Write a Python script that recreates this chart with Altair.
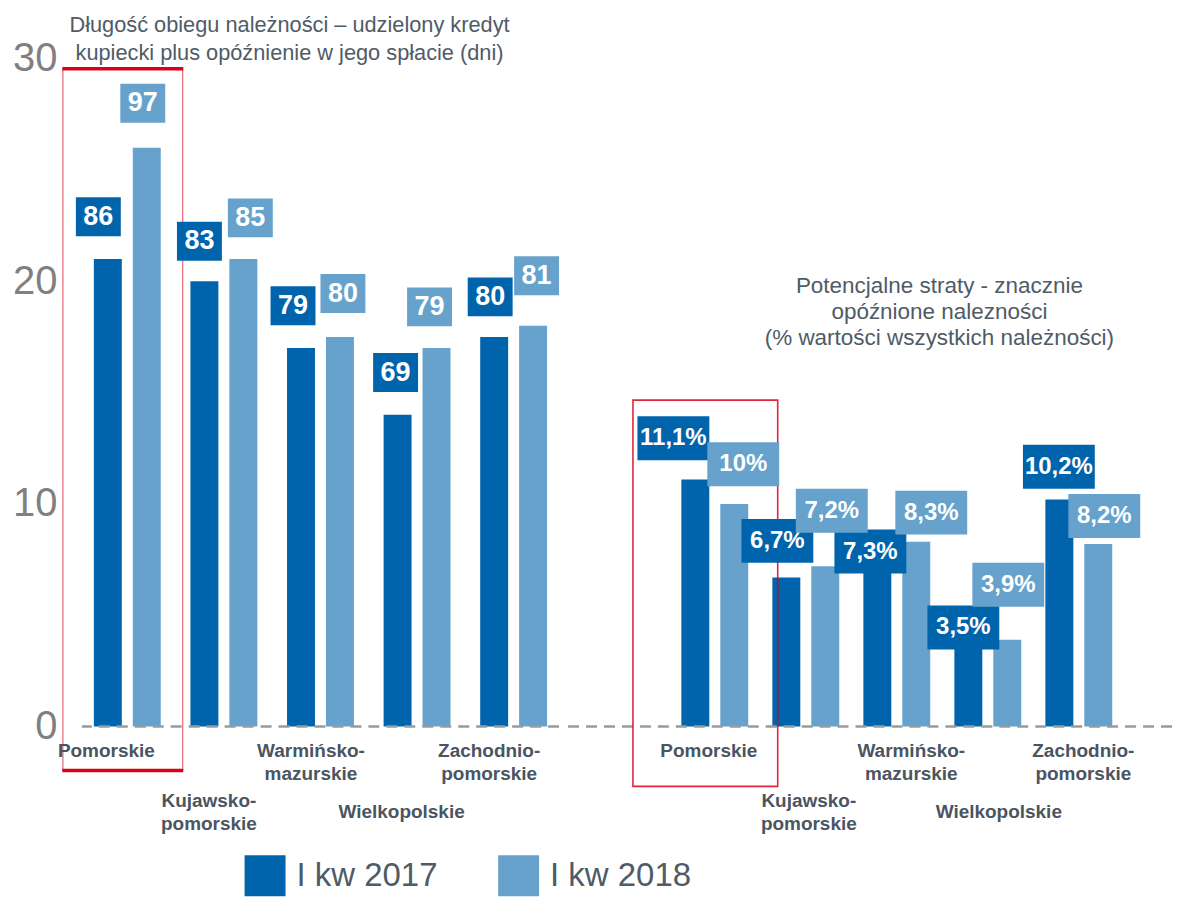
import altair as alt
import pandas as pd

# ---------------- data ----------------
regions = ["Pomorskie", "Kujawsko-pomorskie", "Warmińsko-mazurskie", "Wielkopolskie", "Zachodnio-pomorskie"]
region_names = ["Pomorskie", "Kujawsko-\npomorskie", "Warmińsko-\nmazurskie", "Wielkopolskie", "Zachodnio-\npomorskie"]
years = ["I kw 2017", "I kw 2018"]

# left panel: receivables turnover (days) - printed values and bar heights as drawn on the 0-30 axis
days_2017 = [86, 83, 79, 69, 80]
days_2018 = [97, 85, 80, 79, 81]
days_bar_2017 = [21.0, 20.0, 17.0, 14.0, 17.5]
days_bar_2018 = [26.0, 21.0, 17.5, 17.0, 18.0]

# right panel: potential losses (% of all receivables)
loss_2017 = [11.1, 6.7, 7.3, 3.5, 10.2]
loss_2018 = [10.0, 7.2, 8.3, 3.9, 8.2]

left_title = ["Długość obiegu należności – udzielony kredyt", "kupiecki plus opóźnienie w jego spłacie (dni)"]
right_title = ["Potencjalne straty - znacznie", "opóźnione nalezności" + "\u00a0" * 7,
               "(% wartości wszystkich należności)"]

# ---------------- annotation layout ----------------
days_lab_y_2017 = [22.9, 21.8, 18.9, 15.9, 19.3]
days_lab_y_2018 = [28.0, 22.85, 19.45, 18.85, 20.25]
days_lab_dx_2017 = [-9.5, -5, -8, -2, -4]
days_lab_dx_2018 = [-4, 7, 3, -7, 3.5]
loss_lab_y_2017 = [12.95, 8.34, 7.86, 4.45, 11.67]
loss_lab_y_2018 = [11.78, 9.69, 9.61, 6.37, 9.46]
loss_lab_dx_2017 = [-21, -8, -6, -4, 0.5]
loss_lab_dx_2018 = [12, 9.5, 18, 4, 9]
days_name_dx = [-21, -15, -9.5, -15.5, -24.5]
loss_name_dx = [-4, 5, 16.5, 13, 6.5]
name_tier = [0, 1, 0, 1, 0]

DARK = "#0064AD"
LIGHT = "#66A2CB"
RED = "#D9001B"
SLATE = "#4f5b66"
NAME_C = "#4a5561"
FONT = "Liberation Sans"
PLOT_H = 669


def fmt_pct(v):
    return ("%g" % v).replace(".", ",") + "%"


def bars_frame(a, b):
    return pd.DataFrame({"region": regions * 2,
                         "year": [years[0]] * 5 + [years[1]] * 5,
                         "value": list(a) + list(b)})


def labels_frame(ta, tb, ya, yb, dxa, dxb, half):
    return pd.DataFrame({"idx": list(range(10)),
                         "region": regions * 2,
                         "year": [years[0]] * 5 + [years[1]] * 5,
                         "text": list(ta) + list(tb),
                         "ly": list(ya) + list(yb),
                         "ox": [d - half for d in dxa] + [d + half for d in dxb]})


def names_frame(dx):
    return pd.DataFrame({"idx": list(range(5)), "region": regions, "name": region_names,
                         "ox": dx, "tier": name_tier})


LEGEND = alt.Legend(orient="none", legendX=163, legendY=798, direction="horizontal", title=None,
                    symbolType="square", symbolSize=1681, symbolStrokeWidth=0, symbolOpacity=1,
                    labelFontSize=33, labelFont=FONT, labelColor=SLATE, labelOffset=11,
                    columnPadding=60, labelLimit=400)
COLOR_SCALE = alt.Scale(domain=years, range=[DARK, LIGHT])


def panel(width, bars_df, lab_df, names_df, band, bar_pad, box, box_w, box_h, lab_size,
          title_lines, title_x, title_y, title_lh, title_size, show_axis):
    xs = alt.Scale(domain=regions, paddingInner=band[0], paddingOuter=band[1], align=band[2])
    X = alt.X("region:N", scale=xs, axis=None, sort=regions, title=None)
    ys = alt.Scale(domain=[0, 30], nice=False)
    axis = alt.Axis(values=[0, 10, 20, 30], title=None) if show_axis else None

    def Y(f):
        return alt.Y(f, scale=ys, axis=axis, title=None)

    bars = alt.Chart(bars_df).mark_bar().encode(
        x=X,
        xOffset=alt.XOffset("year:N", sort=years,
                            scale=alt.Scale(domain=years, paddingInner=bar_pad, paddingOuter=0)),
        y=Y("value:Q"),
        color=alt.Color("year:N", scale=COLOR_SCALE, legend=LEGEND),
    )
    zero = alt.Chart(pd.DataFrame({"z": [0]})).mark_rule(
        strokeDash=[11, 7], color="#9a9a9a", strokeWidth=2.5
    ).encode(y=Y("z:Q"))

    layers = [bars, zero]

    box_df = pd.DataFrame({"region": [regions[0]], "top": [box["top"]], "bottom": [box["bottom"]]})
    frame = alt.Chart(box_df).mark_bar(
        width=box["w"], xOffset=box["ox"], fillOpacity=0, stroke=RED,
        strokeWidth=box["side"], strokeOpacity=box["side_op"]
    ).encode(x=X, y=Y("top:Q"), y2="bottom:Q")
    layers.append(frame)
    if box.get("thick"):
        edge_df = pd.DataFrame({"region": [regions[0]] * 2, "yv": [box["top"], box["bottom"]]})
        edges = alt.Chart(edge_df).mark_tick(
            orient="horizontal", size=box["w"] + 1, thickness=box["thick"], color=RED,
            xOffset=box["ox"], opacity=1
        ).encode(x=X, y=Y("yv:Q"))
        layers.append(edges)

    shape = "M-1,-{r}L1,-{r}L1,{r}L-1,{r}Z".format(r=round(box_h / box_w, 4))
    base_lab = alt.Chart(lab_df)
    for i, row in lab_df.iterrows():
        one = base_lab.transform_filter(f"datum.idx == {int(row['idx'])}")
        layers.append(one.mark_point(
            shape=shape, filled=True, size=box_w * box_w, opacity=1, strokeWidth=0,
            xOffset=float(row["ox"])
        ).encode(
            x=X, y=Y("ly:Q"),
            fill=alt.Fill("year:N", scale=alt.Scale(domain=years, range=[DARK, LIGHT]), legend=None),
        ))
        layers.append(one.mark_text(
            font=FONT, fontWeight="bold", fontSize=lab_size, color="white",
            align="center", baseline="middle", xOffset=float(row["ox"])
        ).encode(x=X, y=Y("ly:Q"), text="text:N"))

    base_names = alt.Chart(names_df)
    for i, row in names_df.iterrows():
        one = base_names.transform_filter(f"datum.idx == {int(row['idx'])}")
        n_lines = row["name"].count("\n") + 1
        if row["tier"] == 0:
            mk = one.mark_text(font=FONT, fontWeight="bold", fontSize=19, color=NAME_C, align="center",
                               baseline="top", lineBreak="\n", lineHeight=22.5, dy=16,
                               xOffset=float(row["ox"]))
        else:
            mk = one.mark_text(font=FONT, fontWeight="bold", fontSize=19, color=NAME_C, align="center",
                               baseline="middle", lineBreak="\n", lineHeight=22.5,
                               dy=86 - 11.25 * (n_lines - 1),
                               xOffset=float(row["ox"]))
        layers.append(mk.encode(x=X, y=alt.Y("zero:Q", scale=ys, axis=axis, title=None), text="name:N")
                      .transform_calculate(zero="0"))

    title = alt.Chart(pd.DataFrame({"t": [0]})).mark_text(
        text=title_lines, font=FONT, fontSize=title_size, color=SLATE, align="center",
        baseline="alphabetic", lineHeight=title_lh
    ).encode(x=alt.value(title_x), y=alt.value(title_y))
    layers.append(title)

    return alt.layer(*layers).properties(width=width, height=PLOT_H)


left_bars = bars_frame(days_bar_2017, days_bar_2018)
left_labs = labels_frame([str(v) for v in days_2017], [str(v) for v in days_2018],
                         days_lab_y_2017, days_lab_y_2018, days_lab_dx_2017, days_lab_dx_2018, 19.5)
right_bars = bars_frame(loss_2017, loss_2018)
right_labs = labels_frame([fmt_pct(v) for v in loss_2017], [fmt_pct(v) for v in loss_2018],
                          loss_lab_y_2017, loss_lab_y_2018, loss_lab_dx_2017, loss_lab_dx_2018, 18.5)

left = panel(478, left_bars, left_labs, names_frame(days_name_dx),
             band=(0.3075, 0.124, 0.5), bar_pad=0.282,
             box={"top": 29.55, "bottom": -1.97, "w": 120, "ox": -4.5, "side": 1.2, "side_op": 0.6, "thick": 3.5},
             box_w=45, box_h=39, lab_size=27,
             title_lines=left_title, title_x=208, title_y=-27, title_lh=28, title_size=21.8, show_axis=True)

right = panel(610, right_bars, right_labs, names_frame(loss_name_dx),
              band=(0.3085, 1.0, 0.65), bar_pad=0.297,
              box={"top": 14.66, "bottom": -2.69, "w": 145, "ox": -7.5, "side": 1.6, "side_op": 0.85},
              box_w=72, box_h=44, lab_size=24,
              title_lines=right_title, title_x=377, title_y=235, title_lh=26, title_size=22.5, show_axis=False)

chart = alt.hconcat(left, right, spacing=0).properties(
    padding={"left": 4, "top": 6, "right": 0, "bottom": 0}
).configure_view(stroke=None).configure_axisY(
    grid=False, domain=False, ticks=False, labelFontSize=40, labelColor="#808080",
    labelFont=FONT, labelPadding=25
)

chart.save("out.html", embed_options={"renderer": "svg", "actions": False})
